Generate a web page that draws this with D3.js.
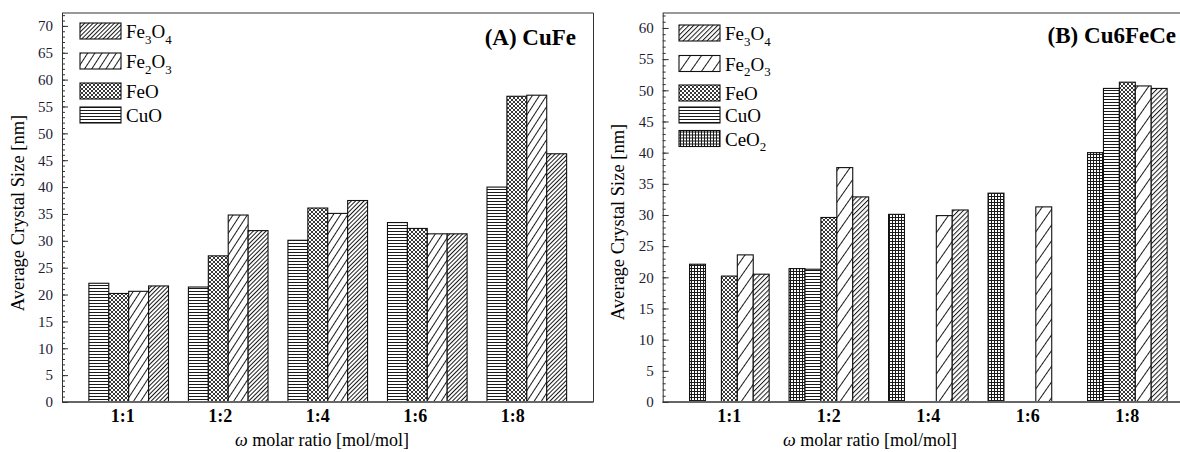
<!DOCTYPE html>
<html>
<head>
<meta charset="utf-8">
<script src="https://cdn.jsdelivr.net/npm/d3@7"></script>
<style>
  body { margin: 0; background: #fff; }
  svg { display: block; }
  svg text { font-family: "Liberation Serif", "Times New Roman", serif; }
</style>
</head>
<body>
<svg id="chart" width="1180" height="452"></svg>
<script>
// x categories (molar ratio)
const ratios = ['1:1', '1:2', '1:4', '1:6', '1:8']

// (A) CuFe – bar order inside a group
const cuFeSeries = ['CuO', 'FeO', 'Fe2O3', 'Fe3O4']
const cuFeCuO = [22.1, 21.4, 30.1, 33.4, 40.0]
const cuFeFeO = [20.2, 27.2, 36.1, 32.3, 56.9]
const cuFeFe2O3 = [20.6, 34.8, 35.1, 31.3, 57.1]
const cuFeFe3O4 = [21.6, 31.9, 37.5, 31.3, 46.2]
const cuFeLegend = ['Fe3O4', 'Fe2O3', 'FeO', 'CuO']

// (B) Cu6FeCe – null = phase not detected
const cu6Series = ['CeO2', 'CuO', 'FeO', 'Fe2O3', 'Fe3O4']
const cu6CeO2 = [22.1, 21.4, 30.1, 33.5, 40.0]
const cu6CuO = [null, 21.3, null, null, 50.3]
const cu6FeO = [20.2, 29.6, null, null, 51.3]
const cu6Fe2O3 = [23.6, 37.6, 29.9, 31.3, 50.7]
const cu6Fe3O4 = [20.5, 32.9, 30.8, null, 50.3]
const cu6Legend = ['Fe3O4', 'Fe2O3', 'FeO', 'CuO', 'CeO2']

const yTicksA = d3.range(0, 71, 5)
const yTicksB = d3.range(0, 61, 5)

const serif = '"Liberation Serif", "Times New Roman", serif'
const svg = d3.select('#chart')
const defs = svg.append('defs')

// hatch patterns
function linePattern(id, w, angle) {
	const p = defs.append('pattern').attr('id', id)
		.attr('patternUnits', 'userSpaceOnUse')
		.attr('width', w).attr('height', w)
		.attr('patternTransform', 'rotate(' + angle + ')')
	p.append('rect').attr('width', w).attr('height', w).attr('fill', '#fff')
	p.append('line').attr('x1', 0.5).attr('x2', 0.5).attr('y1', 0).attr('y2', w)
		.attr('stroke', '#1a1a1a').attr('stroke-width', 1)
}
linePattern('fineA', 3, 45)
linePattern('fineB', 3.4, 45)
linePattern('diagA', 6, 33)
linePattern('diagB', 9, 35)
linePattern('hline', 3, 90)

const cross = defs.append('pattern').attr('id', 'cross')
	.attr('patternUnits', 'userSpaceOnUse').attr('width', 4).attr('height', 4)
cross.append('rect').attr('width', 4).attr('height', 4).attr('fill', '#fff')
cross.append('path').attr('d', 'M0,0L4,4M4,0L0,4M-1,3L1,5M3,-1L5,1M-1,1L1,-1M3,5L5,3')
	.attr('stroke', '#222').attr('stroke-width', 0.9)

const grid = defs.append('pattern').attr('id', 'grid')
	.attr('patternUnits', 'userSpaceOnUse').attr('width', 3).attr('height', 3)
grid.append('rect').attr('width', 3).attr('height', 3).attr('fill', '#fff')
grid.append('path').attr('d', 'M0,1.5H3M1.5,0V3')
	.attr('stroke', '#1a1a1a').attr('stroke-width', 1)

// chemical formula with digits as subscripts
function formula(sel, str, size) {
	const parts = str.match(/[A-Za-z]+|\d+/g)
	let sub = false
	parts.forEach(function (t) {
		const isNum = /^\d+$/.test(t)
		const ts = sel.append('tspan').text(t)
		if (isNum) {
			ts.attr('font-size', size * 0.68).attr('dy', sub ? 0 : size * 0.3)
			sub = true
		} else {
			ts.attr('font-size', size).attr('dy', sub ? -size * 0.3 : 0)
			sub = false
		}
	})
}

function drawPanel(p) {
	const g = svg.append('g')
	const top = 13, bottom = 402

	const x = d3.scaleBand().domain(ratios).range([p.left, p.right])
		.paddingInner(0.2).paddingOuter(0.27)
	const xs = d3.scaleBand().domain(p.series).range([0, x.bandwidth()])
	const y = d3.scaleLinear().domain([0, p.yMax]).range([bottom, top])

	const rows = p.series.flatMap((s, i) => ratios.map((r, j) => ({ ratio: r, series: s, value: p.values[i][j] })))
		.filter(d => d.value != null)

	// bars
	g.selectAll('rect.bar').data(rows).join('rect').attr('class', 'bar')
		.attr('x', d => x(d.ratio) + xs(d.series))
		.attr('y', d => y(d.value))
		.attr('width', xs.bandwidth())
		.attr('height', d => y(0) - y(d.value))
		.attr('fill', d => 'url(#' + p.fills[d.series] + ')')
		.attr('stroke', '#111').attr('stroke-width', 1.1)

	// frame
	g.append('line').attr('x1', p.left).attr('x2', p.right).attr('y1', top).attr('y2', top)
		.attr('stroke', '#777').attr('stroke-width', 1.5)
	g.append('line').attr('x1', p.left).attr('x2', p.right).attr('y1', bottom).attr('y2', bottom)
		.attr('stroke', '#666').attr('stroke-width', 1.8)
	if (p.rightBorder) {
		g.append('line').attr('x1', p.right).attr('x2', p.right).attr('y1', top).attr('y2', bottom)
			.attr('stroke', '#333').attr('stroke-width', 1)
	}

	// y axis: minor ticks every unit, major every 5, ticks pointing inward
	const minor = g.append('g').attr('transform', 'translate(' + p.left + ',0)')
		.call(d3.axisLeft(y).tickValues(d3.range(0, Math.floor(p.yMax) + 1)).tickSize(-3).tickFormat(''))
	minor.select('.domain').remove()
	minor.selectAll('line').attr('stroke', '#333')

	const ya = g.append('g').attr('transform', 'translate(' + p.left + ',0)')
		.call(d3.axisLeft(y).tickValues(p.yTicks).tickSize(-6).tickPadding(9))
	ya.attr('font-family', serif)
	ya.select('.domain').attr('stroke', '#333').attr('d', 'M0.5,' + top + 'V' + bottom)
	ya.selectAll('line').attr('stroke', '#333')
	ya.selectAll('text').attr('font-size', 15).attr('fill', '#1c1c34')

	// x labels
	g.selectAll('text.xl').data(ratios).join('text').attr('class', 'xl')
		.attr('x', (d, i) => x(d) + x.bandwidth() / 2 - p.labelShift * i / 4 - p.labelShift0)
		.attr('y', 422)
		.attr('text-anchor', 'middle').attr('font-weight', 'bold').attr('font-size', 18)
		.attr('font-family', serif).attr('fill', '#000')
		.text(d => d)

	// axis titles
	const xt = g.append('text').attr('x', p.xTitleX).attr('y', 446)
		.attr('text-anchor', 'middle').attr('font-size', 18).attr('font-family', serif).attr('fill', '#000')
	xt.append('tspan').attr('font-style', 'italic').text('\u03c9')
	xt.append('tspan').text(' molar ratio [mol/mol]')

	g.append('text').attr('transform', 'translate(' + p.yTitleX + ',' + p.yTitleY + ') rotate(-90)')
		.attr('text-anchor', 'middle').attr('font-size', 18.5).attr('font-family', serif).attr('fill', '#000')
		.text('Average Crystal Size [nm]')

	// panel title
	g.append('text').attr('x', p.titleX).attr('y', p.titleY)
		.attr('text-anchor', 'end').attr('font-weight', 'bold').attr('font-size', 23)
		.attr('font-family', serif).attr('fill', '#000')
		.text(p.title)

	// legend
	const lg = g.selectAll('g.lg').data(p.legend).join('g').attr('class', 'lg')
		.attr('transform', (d, i) => 'translate(' + p.legendX + ',' + p.legendY[i] + ')')
	lg.append('rect').attr('width', 41).attr('height', 16)
		.attr('fill', d => 'url(#' + p.fills[d] + ')')
		.attr('stroke', '#111').attr('stroke-width', 1.1)
	lg.append('text').attr('x', 46).attr('y', 15).attr('fill', '#000').attr('font-family', serif)
		.each(function (d) { formula(d3.select(this), d, 19) })
}

drawPanel({
	left: 62, right: 593.5, yMax: 72.4, yTicks: yTicksA,
	series: cuFeSeries,
	values: [cuFeCuO, cuFeFeO, cuFeFe2O3, cuFeFe3O4],
	fills: { CuO: 'hline', FeO: 'cross', Fe2O3: 'diagA', Fe3O4: 'fineA' },
	legend: cuFeLegend, legendX: 80, legendY: [23, 53, 83, 107],
	title: '(A) CuFe', titleX: 576, titleY: 45,
	xTitleX: 322, yTitleX: 24, yTitleY: 213,
	labelShift: 8, labelShift0: 6, rightBorder: true
})

drawPanel({
	left: 662.7, right: 1194, yMax: 62.4, yTicks: yTicksB,
	series: cu6Series,
	values: [cu6CeO2, cu6CuO, cu6FeO, cu6Fe2O3, cu6Fe3O4],
	fills: { CeO2: 'grid', CuO: 'hline', FeO: 'cross', Fe2O3: 'diagB', Fe3O4: 'fineB' },
	legend: cu6Legend, legendX: 679, legendY: [25, 55.5, 85, 107, 130.5],
	title: '(B) Cu6FeCe', titleX: 1176, titleY: 43,
	xTitleX: 870, yTitleX: 624, yTitleY: 222,
	labelShift: 0, labelShift0: 0, rightBorder: false
})
</script>
</body>
</html>
